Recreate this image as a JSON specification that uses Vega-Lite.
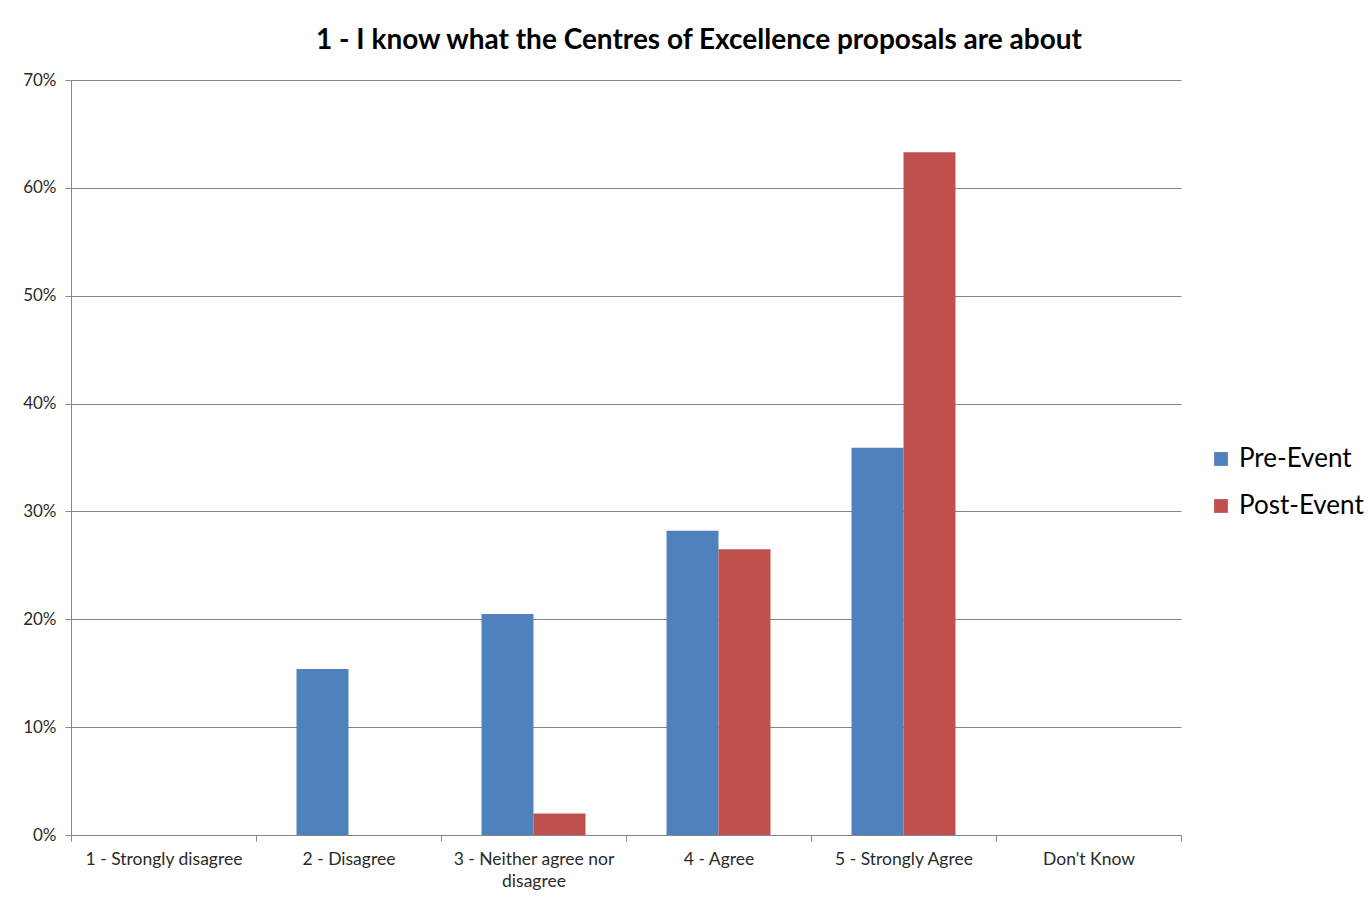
{
  "$schema": "https://vega.github.io/schema/vega-lite/v6.json",
  "autosize": "none",
  "width": 1110,
  "height": 755,
  "padding": {"left": 71, "top": 80, "right": 190, "bottom": 66},
  "background": "white",
  "config": {
    "font": "Lato",
    "view": {"stroke": null}
  },
  "title": {
    "text": "1 - I know what the Centres of Excellence proposals are about",
    "fontSize": 28,
    "fontWeight": "bold",
    "font": "Lato",
    "color": "#000000",
    "anchor": "middle",
    "frame": "group",
    "dx": 73,
    "offset": 16
  },
  "data": {
    "values": [
      {"response": "2 - Disagree", "series": "Pre-Event", "share": 0.154},
      {"response": "3 - Neither agree nor disagree", "series": "Pre-Event", "share": 0.205},
      {"response": "3 - Neither agree nor disagree", "series": "Post-Event", "share": 0.02},
      {"response": "4 - Agree", "series": "Pre-Event", "share": 0.282},
      {"response": "4 - Agree", "series": "Post-Event", "share": 0.265},
      {"response": "5 - Strongly Agree", "series": "Pre-Event", "share": 0.359},
      {"response": "5 - Strongly Agree", "series": "Post-Event", "share": 0.633}
    ]
  },
  "mark": {"type": "bar"},
  "encoding": {
    "x": {
      "field": "response",
      "type": "nominal",
      "sort": null,
      "scale": {
        "domain": ["1 - Strongly disagree", "2 - Disagree", "3 - Neither agree nor disagree", "4 - Agree", "5 - Strongly Agree", "Don't Know"],
        "paddingInner": 0,
        "paddingOuter": 0
      },
      "axis": {
        "title": null,
        "labelAngle": 0,
        "labelFontSize": 17.5,
        "labelColor": "#2a2a2a",
        "labelFont": "Lato",
        "labelPadding": 9,
        "labelLimit": 400,
        "labelLineHeight": 22,
        "labelExpr": "datum.value == '3 - Neither agree nor disagree' ? ['3 - Neither agree nor', 'disagree'] : datum.value",
        "tickBand": "extent",
        "tickColor": "#868686",
        "tickSize": 6,
        "domainColor": "#868686",
        "grid": false
      }
    },
    "xOffset": {
      "field": "series",
      "type": "nominal",
      "sort": ["Pre-Event", "Post-Event"],
      "scale": {"paddingInner": 0, "paddingOuter": 0.779}
    },
    "y": {
      "field": "share",
      "type": "quantitative",
      "scale": {"domain": [0, 0.7], "nice": false},
      "axis": {
        "title": null,
        "values": [0, 0.1, 0.2, 0.3, 0.4, 0.5, 0.6, 0.7],
        "format": ".0%",
        "labelFontSize": 17,
        "labelColor": "#2a2a2a",
        "labelFont": "Lato",
        "labelPadding": 9,
        "tickColor": "#868686",
        "tickSize": 6,
        "domainColor": "#868686",
        "gridColor": "#868686",
        "gridWidth": 1
      }
    },
    "color": {
      "field": "series",
      "type": "nominal",
      "sort": ["Pre-Event", "Post-Event"],
      "scale": {"domain": ["Pre-Event", "Post-Event"], "range": ["#4F81BD", "#C0504D"]},
      "legend": {
        "title": null,
        "orient": "none",
        "legendX": 1137,
        "legendY": 366,
        "symbolType": "square",
        "symbolSize": 190,
        "symbolStrokeWidth": 0,
        "labelFontSize": 26,
        "labelFont": "Lato",
        "labelColor": "#000000",
        "labelOffset": 5,
        "rowPadding": 21
      }
    }
  }
}
